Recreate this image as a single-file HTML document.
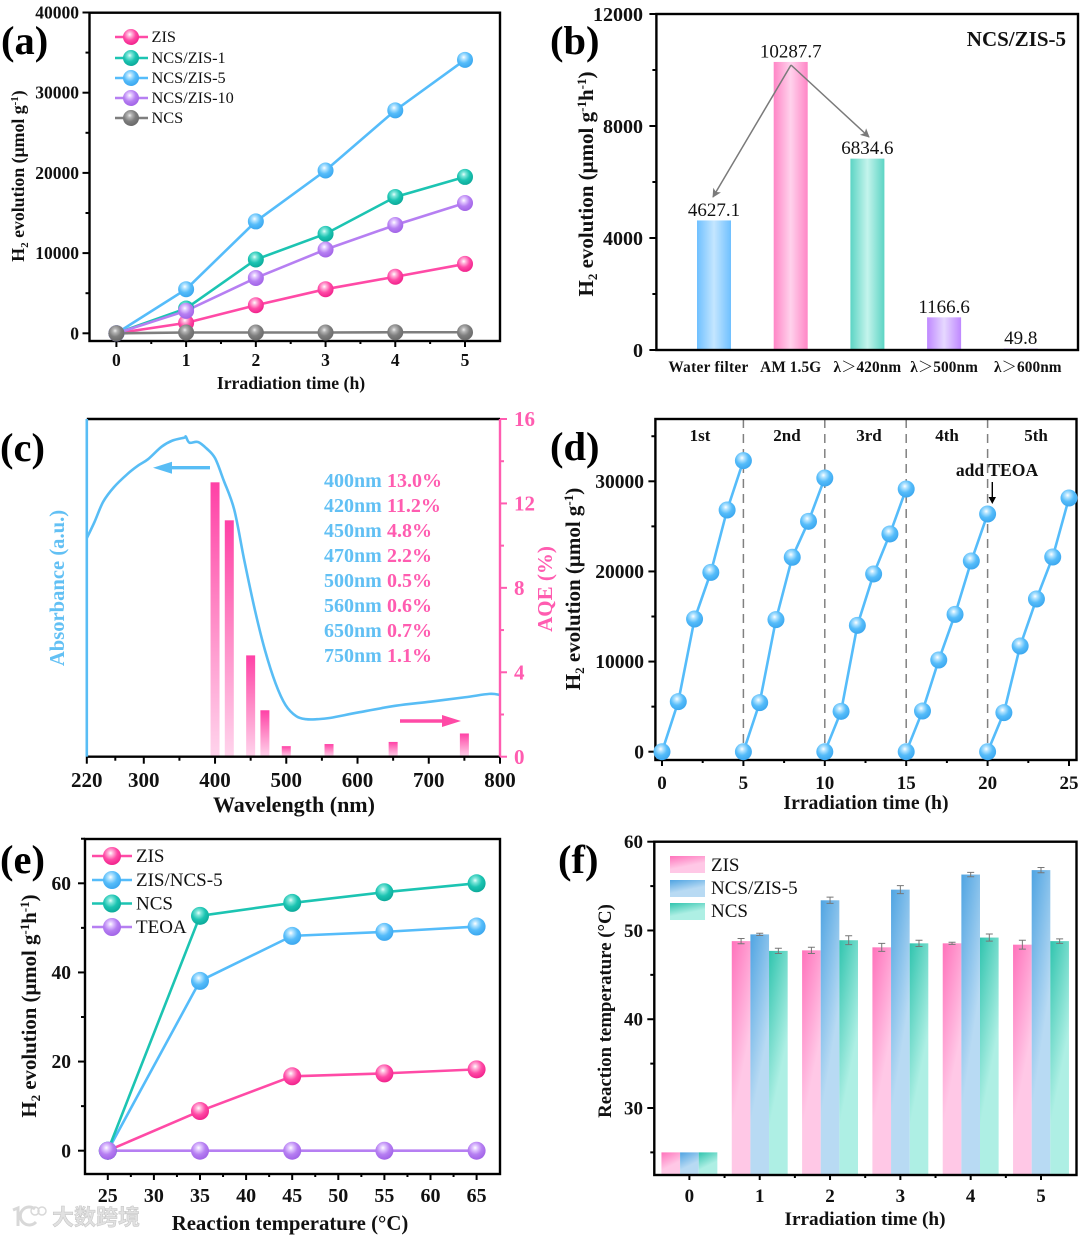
<!DOCTYPE html>
<html lang="en">
<head>
<meta charset="utf-8">
<title>Photocatalytic H2 evolution figure</title>
<style>
html,body{margin:0;padding:0;background:#fff;}
svg{display:block;font-family:"Liberation Serif","Noto Serif CJK SC",serif;filter:blur(.35px);}
text{fill:#111;}
.b{font-weight:bold;}
.panel{font-weight:bold;font-size:40.5px;fill:#000;}
</style>
</head>
<body>
<svg id="fig" xmlns="http://www.w3.org/2000/svg" width="1080" height="1235" viewBox="0 0 1080 1235">
<defs>
  <radialGradient id="ball-pink" cx=".42" cy=".34" r=".68"><stop offset="0" stop-color="#fff"/><stop offset=".2" stop-color="#ffb4da"/><stop offset=".55" stop-color="#ff4aa6"/><stop offset="1" stop-color="#f0208a"/></radialGradient>
  <radialGradient id="ball-teal" cx=".42" cy=".34" r=".68"><stop offset="0" stop-color="#e8fffb"/><stop offset=".2" stop-color="#7fe6da"/><stop offset=".55" stop-color="#1cc4b2"/><stop offset="1" stop-color="#0ba898"/></radialGradient>
  <radialGradient id="ball-blue" cx=".42" cy=".34" r=".68"><stop offset="0" stop-color="#fff"/><stop offset=".2" stop-color="#b4e4ff"/><stop offset=".55" stop-color="#55bcfa"/><stop offset="1" stop-color="#3aa6ee"/></radialGradient>
  <radialGradient id="ball-purple" cx=".42" cy=".34" r=".68"><stop offset="0" stop-color="#fff"/><stop offset=".2" stop-color="#e2c8ff"/><stop offset=".55" stop-color="#b67ff2"/><stop offset="1" stop-color="#a062e6"/></radialGradient>
  <radialGradient id="ball-gray" cx=".42" cy=".34" r=".68"><stop offset="0" stop-color="#eee"/><stop offset=".2" stop-color="#b4b4b4"/><stop offset=".55" stop-color="#7e7e7e"/><stop offset="1" stop-color="#686868"/></radialGradient>

  <linearGradient id="bb-blue" x1="0" x2="1" y1="0" y2="0"><stop offset="0" stop-color="#6fc0ff"/><stop offset=".5" stop-color="#c4e6ff"/><stop offset="1" stop-color="#6fc0ff"/></linearGradient>
  <linearGradient id="bb-pink" x1="0" x2="1" y1="0" y2="0"><stop offset="0" stop-color="#ff86c6"/><stop offset=".5" stop-color="#ffd2ec"/><stop offset="1" stop-color="#ff86c6"/></linearGradient>
  <linearGradient id="bb-teal" x1="0" x2="1" y1="0" y2="0"><stop offset="0" stop-color="#5cd4c4"/><stop offset=".5" stop-color="#c4f4ec"/><stop offset="1" stop-color="#5cd4c4"/></linearGradient>
  <linearGradient id="bb-purple" x1="0" x2="1" y1="0" y2="0"><stop offset="0" stop-color="#bf88ff"/><stop offset=".5" stop-color="#e6d8ff"/><stop offset="1" stop-color="#bf88ff"/></linearGradient>

  <linearGradient id="cb-pink" x1="0" x2="0" y1="0" y2="1"><stop offset="0" stop-color="#ff41a6"/><stop offset=".45" stop-color="#ff85c4"/><stop offset="1" stop-color="#ffd4ec"/></linearGradient>

  <linearGradient id="fb-pink" x1="0" x2=".35" y1="0" y2=".85"><stop offset="0" stop-color="#ff72bb"/><stop offset=".8" stop-color="#ffc8e6"/><stop offset="1" stop-color="#ffc8e6"/></linearGradient>
  <linearGradient id="fb-blue" x1="0" x2=".35" y1="0" y2=".85"><stop offset="0" stop-color="#4fa4e2"/><stop offset=".8" stop-color="#b8daf3"/><stop offset="1" stop-color="#b8daf3"/></linearGradient>
  <linearGradient id="fb-teal" x1="0" x2=".35" y1="0" y2=".85"><stop offset="0" stop-color="#30c4ae"/><stop offset=".8" stop-color="#aeefe4"/><stop offset="1" stop-color="#aeefe4"/></linearGradient>

  <marker id="arrow-gray" viewBox="0 0 10 10" refX="9" refY="5" markerWidth="10" markerHeight="9" markerUnits="userSpaceOnUse" orient="auto"><path d="M0 0L10 5L0 10L2.5 5Z" fill="#7a7a7a"/></marker>
</defs>

<!-- Panel letters -->
<text class="panel" x="1" y="54">(a)</text>
<text class="panel" x="550" y="54">(b)</text>
<text class="panel" x="0" y="461">(c)</text>
<text class="panel" x="550" y="460">(d)</text>
<text class="panel" x="0" y="873">(e)</text>
<text class="panel" x="558" y="873">(f)</text>

<!-- Panel a titles and legend -->
<text class="b" font-size="17.7" text-anchor="middle" x="291" y="389">Irradiation time (h)</text>
<text class="b" font-size="17.8" text-anchor="middle" transform="translate(24,176) rotate(-90)">H<tspan font-size="11" dy="4">2</tspan><tspan dy="-4"> evolution (μmol g</tspan><tspan font-size="11" dy="-6">-1</tspan><tspan dy="6">)</tspan></text>
<g>
  <g><line x1="115" x2="148" y1="37" y2="37" stroke="#ff4aa6" stroke-width="2.5"/><circle cx="131" cy="37" r="8" fill="url(#ball-pink)"/><text x="151.5" y="42" font-size="16.3">ZIS</text></g>
  <g><line x1="115" x2="148" y1="58" y2="58" stroke="#1cc4b2" stroke-width="2.5"/><circle cx="131" cy="58" r="8" fill="url(#ball-teal)"/><text x="151.5" y="63" font-size="16.3">NCS/ZIS-1</text></g>
  <g><line x1="115" x2="148" y1="78" y2="78" stroke="#55bcfa" stroke-width="2.5"/><circle cx="131" cy="78" r="8" fill="url(#ball-blue)"/><text x="151.5" y="83" font-size="16.3">NCS/ZIS-5</text></g>
  <g><line x1="115" x2="148" y1="98" y2="98" stroke="#b67ff2" stroke-width="2.5"/><circle cx="131" cy="98" r="8" fill="url(#ball-purple)"/><text x="151.5" y="103" font-size="16.3">NCS/ZIS-10</text></g>
  <g><line x1="115" x2="148" y1="118" y2="118" stroke="#7e7e7e" stroke-width="2.5"/><circle cx="131" cy="118" r="8" fill="url(#ball-gray)"/><text x="151.5" y="123" font-size="16.3">NCS</text></g>
</g>

<!-- Panel b titles -->
<text class="b" font-size="21" text-anchor="middle" transform="translate(593,184) rotate(-90)">H<tspan font-size="13" dy="4">2</tspan><tspan dy="-4"> evolution (μmol g</tspan><tspan font-size="13" dy="-7">-1</tspan><tspan dy="7">h</tspan><tspan font-size="13" dy="-7">-1</tspan><tspan dy="7">)</tspan></text>
<text class="b" font-size="21" text-anchor="end" x="1066" y="46">NCS/ZIS-5</text>

<!-- Panel c titles -->
<text class="b" font-size="22" text-anchor="middle" x="294" y="812">Wavelength (nm)</text>
<text class="b" font-size="20.6" text-anchor="middle" transform="translate(64,588) rotate(-90)" style="fill:#62c0f4">Absorbance (a.u.)</text>
<text class="b" font-size="21" text-anchor="middle" transform="translate(552,589) rotate(-90)" style="fill:#ff5cb0">AQE (%)</text>

<!-- Panel d titles -->
<text class="b" font-size="19.7" text-anchor="middle" x="866" y="809">Irradiation time (h)</text>
<text class="b" font-size="21" text-anchor="middle" transform="translate(580,589) rotate(-90)">H<tspan font-size="13" dy="4">2</tspan><tspan dy="-4"> evolution (μmol g</tspan><tspan font-size="13" dy="-7">-1</tspan><tspan dy="7">)</tspan></text>
<g class="b" font-size="17" text-anchor="middle">
  <text x="700" y="441">1st</text>
  <text x="787" y="441">2nd</text>
  <text x="869" y="441">3rd</text>
  <text x="947" y="441">4th</text>
  <text x="1036" y="441">5th</text>
</g>

<!-- Panel e titles and legend -->
<text class="b" font-size="20.8" text-anchor="middle" x="290" y="1230">Reaction temperature (°C)</text>
<text class="b" font-size="20.8" text-anchor="middle" transform="translate(36,1006) rotate(-90)">H<tspan font-size="13" dy="4">2</tspan><tspan dy="-4"> evolution (μmol g</tspan><tspan font-size="13" dy="-7">-1</tspan><tspan dy="7">h</tspan><tspan font-size="13" dy="-7">-1</tspan><tspan dy="7">)</tspan></text>
<g>
  <g><line x1="92" x2="132" y1="856" y2="856" stroke="#ff4aa6" stroke-width="2.5"/><circle cx="112" cy="856" r="9" fill="url(#ball-pink)"/><text x="136" y="862" font-size="19">ZIS</text></g>
  <g><line x1="92" x2="132" y1="880" y2="880" stroke="#55bcfa" stroke-width="2.5"/><circle cx="112" cy="880" r="9" fill="url(#ball-blue)"/><text x="136" y="886" font-size="19">ZIS/NCS-5</text></g>
  <g><line x1="92" x2="132" y1="903.5" y2="903.5" stroke="#1cc4b2" stroke-width="2.5"/><circle cx="112" cy="903.5" r="9" fill="url(#ball-teal)"/><text x="136" y="909.5" font-size="19">NCS</text></g>
  <g><line x1="92" x2="132" y1="927" y2="927" stroke="#b67ff2" stroke-width="2.5"/><circle cx="112" cy="927" r="9" fill="url(#ball-purple)"/><text x="136" y="933" font-size="19">TEOA</text></g>
</g>

<!-- Panel f titles and legend -->
<text class="b" font-size="19.2" text-anchor="middle" x="865" y="1225">Irradiation time (h)</text>
<text class="b" font-size="18.8" text-anchor="middle" transform="translate(611,1011) rotate(-90)">Reaction temperature (°C)</text>
<g>
  <g><rect x="670" y="856" width="35" height="17" fill="url(#fb-pink)"/><text x="711" y="871" font-size="19">ZIS</text></g>
  <g><rect x="670" y="880" width="35" height="17" fill="url(#fb-blue)"/><text x="711" y="894" font-size="19">NCS/ZIS-5</text></g>
  <g><rect x="670" y="903" width="35" height="17" fill="url(#fb-teal)"/><text x="711" y="917" font-size="19">NCS</text></g>
</g>

<!-- Watermark -->
<g opacity=".9">
  <path d="M13 1210L18 1208V1226M35 1209A9 9 0 1 0 36 1222" fill="none" stroke="#d4d4d4" stroke-width="3"/>
  <circle cx="35" cy="1211" r="4" fill="none" stroke="#d4d4d4" stroke-width="1.5"/>
  <circle cx="42" cy="1211" r="4" fill="none" stroke="#d4d4d4" stroke-width="1.5"/>
  <text x="52" y="1225" font-size="22" font-weight="bold" style="font-family:'Noto Sans CJK SC',sans-serif;fill:#dedede;stroke:#bdbdbd;stroke-width:.5">大数跨境</text>
</g>

<g id="charts"></g>
</svg>

<script>
// ---------- Panel a data ----------
const aHours = [0, 1, 2, 3, 4, 5];
const aZis = [0, 1300, 3500, 5500, 7050, 8650];
const aNcsZis1 = [0, 3100, 9200, 12400, 17000, 19500];
const aNcsZis5 = [0, 5500, 13950, 20300, 27800, 34100];
const aNcsZis10 = [0, 2800, 6900, 10450, 13500, 16250];
const aNcs = [0, 100, 100, 100, 130, 130];
const aYTicks = [0, 10000, 20000, 30000, 40000];
const aYMinor = [5000, 15000, 25000, 35000];
const aXMinor = [0.5, 1.5, 2.5, 3.5, 4.5];

// ---------- Panel b data ----------
const bCategories = ['Water filter', 'AM 1.5G', 'λ＞420nm', 'λ＞500nm', 'λ＞600nm'];
const bValues = [4627.1, 10287.7, 6834.6, 1166.6, 49.8];
const bYTicks = [0, 4000, 8000, 12000];
const bYMinor = [2000, 6000, 10000];

// ---------- Panel c data ----------
const cWavelength = [220, 231, 243, 258, 277, 292, 306, 325, 340, 357, 359, 364, 376, 388, 400, 412, 427, 441, 456, 470, 485, 499, 514, 528, 543, 562, 601, 654, 702, 751, 785, 800];
const cAbsorbance = [.647, .696, .755, .798, .837, .862, .881, .918, .936, .945, .948, .930, .932, .913, .884, .819, .731, .582, .434, .316, .217, .153, .120, .111, .111, .115, .131, .151, .163, .176, .186, .183];
const cBarWavelength = [400, 420, 450, 470, 500, 560, 650, 750];
const cBarAqe = [13.0, 11.2, 4.8, 2.2, 0.5, 0.6, 0.7, 1.1];
const cXTicks = [220, 300, 400, 500, 600, 700, 800];
const cXMinor = [260, 350, 450, 550, 650, 750];
const cYTicks = [0, 4, 8, 12, 16];
const cYMinor = [2, 6, 10, 14];

// ---------- Panel d data ----------
const dHoursInCycle = [0, 1, 2, 3, 4, 5];
const dCycleStart = [0, 5, 10, 15, 20];
const dCycle1 = [0, 5550, 14720, 19900, 26820, 32290];
const dCycle2 = [0, 5440, 14650, 21570, 25560, 30370];
const dCycle3 = [0, 4480, 14020, 19720, 24160, 29150];
const dCycle4 = [0, 4510, 10170, 15240, 21160, 26370];
const dCycle5 = [0, 4330, 11730, 16940, 21600, 28150];
const dXTicks = [0, 5, 10, 15, 20, 25];
const dXMinor = [2.5, 7.5, 12.5, 17.5, 22.5];
const dYTicks = [0, 10000, 20000, 30000];
const dYMinor = [5000, 15000, 25000, 35000];
const dDividers = [5, 10, 15, 20];

// ---------- Panel e data ----------
const eTemperature = [25, 35, 45, 55, 65];
const eZis = [0, 8.9, 16.7, 17.35, 18.25];
const eZisNcs5 = [0, 38.1, 48.2, 49.1, 50.3];
const eNcs = [0, 52.7, 55.6, 58, 60];
const eTeoa = [0, 0, 0, 0, 0];
const eXTicks = [25, 30, 35, 40, 45, 50, 55, 60, 65];
const eXMinor = [27.5, 32.5, 37.5, 42.5, 47.5, 52.5, 57.5, 62.5];
const eYTicks = [0, 20, 40, 60];
const eYMinor = [10, 30, 50, 70];

// ---------- Panel f data ----------
const fHours = [0, 1, 2, 3, 4, 5];
const fZis = [25, 48.8, 47.76, 48.1, 48.55, 48.4];
const fNcsZis5 = [25, 49.56, 53.4, 54.6, 56.3, 56.8];
const fNcs = [25, 47.7, 48.9, 48.55, 49.2, 48.8];
const fZisErr = [0, .3, .35, .45, .12, .5];
const fNcsZis5Err = [0, .12, .35, .45, .25, .3];
const fNcsErr = [0, .3, .5, .35, .4, .25];
const fYTicks = [30, 40, 50, 60];
const fYMinor = [25, 35, 45, 55];
const fXMinor = [0.5, 1.5, 2.5, 3.5, 4.5];

// ---------- helpers ----------
const NS = 'http://www.w3.org/2000/svg';
const root = document.getElementById('charts');
function add(parent, tag, attrs) {
  const el = document.createElementNS(NS, tag);
  for (const k in attrs) el.setAttribute(k, attrs[k]);
  parent.appendChild(el);
  return el;
}
function linear(d0, d1, r0, r1) {
  return v => r0 + (v - d0) * (r1 - r0) / (d1 - d0);
}
function group(name) {
  const g = add(root, 'g', {});
  
  
  return g;
}
function frame(g, x0, y0, x1, y1, name) {
  const r = add(g, 'rect', {x: x0, y: y0, width: x1 - x0, height: y1 - y0, fill: 'none', stroke: '#000', 'stroke-width': 2.4});
  
  
}
// Catmull-Rom smoothing through projected points
function smoothPath(p) {
  let d = 'M' + p[0][0] + ' ' + p[0][1];
  for (let i = 0; i < p.length - 1; i++) {
    const a = p[Math.max(i - 1, 0)], b = p[i], c = p[i + 1], e = p[Math.min(i + 2, p.length - 1)];
    d += 'C' + (b[0] + (c[0] - a[0]) / 6) + ' ' + (b[1] + (c[1] - a[1]) / 6) + ' ' +
         (c[0] - (e[0] - b[0]) / 6) + ' ' + (c[1] - (e[1] - b[1]) / 6) + ' ' + c[0] + ' ' + c[1];
  }
  return d;
}
// side: 'left' | 'right' | 'bottom'; at: pixel position of the axis line
function axis(g, side, at, scale, majors, minors, o) {
  const dir = side === 'right' ? 1 : (side === 'left' ? -1 : 1);
  const color = o.color || '#000';
  const tick = (v, len, major) => {
    const p = scale(v);
    const a = side === 'bottom'
      ? {x1: p, x2: p, y1: at, y2: at + len}
      : {x1: at, x2: at + dir * len, y1: p, y2: p};
    const t = add(g, 'line', Object.assign(a, {stroke: color, 'stroke-width': 2}));
    
    
  };
  minors.forEach(v => tick(v, o.minorLen || 4, false));
  majors.forEach(v => {
    tick(v, o.majorLen || 7, true);
    const p = scale(v);
    const attrs = side === 'bottom'
      ? {x: p, y: o.labelPos, 'text-anchor': 'middle', 'font-size': o.font, 'font-weight': 'bold'}
      : {x: o.labelPos, y: p + o.font * .34, 'text-anchor': side === 'left' ? 'end' : 'start', 'font-size': o.font, 'font-weight': 'bold'};
    const t = add(g, 'text', attrs);
    t.textContent = v;
    if (o.color) t.style.fill = o.color;
    
    
  });
}
function series(g, xs, ys, sx, sy, color, ball, r, name) {
  const d = xs.map((x, i) => (i ? 'L' : 'M') + sx(x) + ' ' + sy(ys[i])).join('');
  const l = add(g, 'path', {d: d, fill: 'none', stroke: color, 'stroke-width': 2.6});
  
  
  return () => {
    xs.forEach((x, i) => {
      const c = add(g, 'circle', {cx: sx(x), cy: sy(ys[i]), r: r, fill: 'url(#' + ball + ')'});
      
      
    });
  };
}

// ---------- Panel a ----------
(function () {
  const g = group('chart-a');
  const sx = linear(0, 5, 116.4, 465), sy = linear(0, 40000, 333.3, 12.5);
  frame(g, 89.5, 12.7, 500, 341, 'a-plot-frame');
  axis(g, 'left', 89.5, sy, aYTicks, aYMinor, {name: 'a-y-axis', font: 17.5, labelPos: 79});
  axis(g, 'bottom', 341, sx, aHours, aXMinor, {name: 'a-x-axis', font: 17.5, labelPos: 366, majorLen: 6, minorLen: 3});
  const list = [
    [aZis, '#ff4aa6', 'ball-pink', 'a-zis'],
    [aNcsZis1, '#1cc4b2', 'ball-teal', 'a-ncs-zis-1'],
    [aNcsZis5, '#55bcfa', 'ball-blue', 'a-ncs-zis-5'],
    [aNcsZis10, '#b67ff2', 'ball-purple', 'a-ncs-zis-10'],
    [aNcs, '#7e7e7e', 'ball-gray', 'a-ncs']
  ];
  const pts = list.map(s => series(g, aHours, s[0], sx, sy, s[1], s[2], 8, s[3]));
  pts.forEach(f => f());
})();

// ---------- Panel b ----------
(function () {
  const g = group('chart-b');
  const sy = linear(0, 12000, 350, 14);
  const barX = i => 714 + i * 76.7;
  const fills = ['bb-blue', 'bb-pink', 'bb-teal', 'bb-purple', 'bb-purple'];
  bValues.forEach((v, i) => {
    const b = add(g, 'rect', {x: barX(i) - 17, y: sy(v), width: 34, height: 350 - sy(v), fill: 'url(#' + fills[i] + ')'});
    
    
    const t = add(g, 'text', {x: barX(i), y: sy(v) - 4.5, 'text-anchor': 'middle', 'font-size': 19});
    t.textContent = v.toFixed(1);
    
    
    const c = add(g, 'text', {x: barX(i) + (i === 0 ? -5.5 : (i === 4 ? 7 : 0)), y: 372, 'text-anchor': 'middle', 'font-size': 15.3, 'font-weight': 'bold', 'letter-spacing': i === 0 ? '.3' : '.1'});
    c.textContent = bCategories[i];
    
    
  });
  frame(g, 656.4, 14, 1078, 350, 'b-plot-frame');
  axis(g, 'left', 656.4, sy, bYTicks, bYMinor, {name: 'b-y-axis', font: 20, labelPos: 643});
  const a1 = add(g, 'line', {x1: 791, y1: 65, x2: 713, y2: 197, stroke: '#7a7a7a', 'stroke-width': 1.5, 'marker-end': 'url(#arrow-gray)'});
  
  
  const a2 = add(g, 'line', {x1: 791, y1: 65, x2: 869, y2: 137, stroke: '#7a7a7a', 'stroke-width': 1.5, 'marker-end': 'url(#arrow-gray)'});
  
  
})();

// ---------- Panel c ----------
(function () {
  const g = group('chart-c');
  const L = 86.8, R = 500, T = 419, B = 756.7;
  const sx = linear(220, 800, L, R), sy = linear(0, 16, B, T), sa = linear(0, 1, B, T);
  cBarWavelength.forEach((w, i) => {
    const b = add(g, 'rect', {x: sx(w) - 4.5, y: sy(cBarAqe[i]), width: 9, height: B - sy(cBarAqe[i]), fill: 'url(#cb-pink)'});
    
    
    const t1 = add(g, 'text', {x: 324, y: 487 + i * 25, 'font-size': 20, 'font-weight': 'bold'});
    t1.textContent = w + 'nm';
    t1.style.fill = '#62c0f4';
    
    
    const t2 = add(g, 'text', {x: 387, y: 487 + i * 25, 'font-size': 20, 'font-weight': 'bold'});
    t2.textContent = cBarAqe[i].toFixed(1) + '%';
    t2.style.fill = '#ff5cb0';
    
    
  });
  const curvePts = cWavelength.map((w, i) => [sx(w), sa(cAbsorbance[i])]);
  const curve = add(g, 'path', {d: smoothPath(curvePts), fill: 'none', stroke: '#58bdf5', 'stroke-width': 2.6, 'stroke-linejoin': 'round'});
  
  

  const top = add(g, 'line', {x1: L, x2: R, y1: T, y2: T, stroke: '#000', 'stroke-width': 2.4});
  
  
  const bot = add(g, 'line', {x1: L, x2: R, y1: B, y2: B, stroke: '#000', 'stroke-width': 2.4});
  
  
  const left = add(g, 'line', {x1: L, x2: L, y1: T, y2: B, stroke: '#58bdf5', 'stroke-width': 2.6});
  
  
  const right = add(g, 'line', {x1: R, x2: R, y1: T, y2: B, stroke: '#ff5cb0', 'stroke-width': 2.4});
  
  

  axis(g, 'bottom', B, sx, cXTicks, cXMinor, {name: 'c-x-axis', font: 21, labelPos: 787});
  axis(g, 'right', R, sy, cYTicks, cYMinor, {name: 'c-right-y-axis', font: 21, labelPos: 514, color: '#ff5cb0'});

  const ab = add(g, 'path', {d: 'M210 466H172V461.7L153 467.7L172 473.7V469.4H210Z', fill: '#58bdf5'});
  
  
  const ap = add(g, 'path', {d: 'M400 719.3H442V715L461 721L442 727V722.7H400Z', fill: '#ff4aa6'});
  
  
})();

// ---------- Panel d ----------
(function () {
  const g = group('chart-d');
  const L = 655.4, R = 1076.5, T = 419, B = 760;
  const sx = linear(0, 25, 662, 1069), sy = linear(0, 30000, 751.7, 481.3);
  dDividers.forEach(v => {
    const l = add(g, 'line', {x1: sx(v), x2: sx(v), y1: T, y2: B, stroke: '#808080', 'stroke-width': 1.5, 'stroke-dasharray': '9 6'});
    
    
  });
  frame(g, L, T, R, B, 'd-plot-frame');
  axis(g, 'left', L, sy, dYTicks, dYMinor, {name: 'd-y-axis', font: 19.5, labelPos: 644});
  axis(g, 'bottom', B, sx, dXTicks, dXMinor, {name: 'd-x-axis', font: 19, labelPos: 789, majorLen: 6, minorLen: 3});
  const cycles = [dCycle1, dCycle2, dCycle3, dCycle4, dCycle5];
  const pts = cycles.map((c, i) => series(g, dHoursInCycle.map(h => h + dCycleStart[i]), c, sx, sy, '#55bcfa', 'ball-blue', 8.5, 'd-cycle-' + (i + 1)));
  pts.forEach(f => f());
  const lab = add(g, 'text', {x: 997, y: 476, 'text-anchor': 'middle', 'font-size': 17.6, 'font-weight': 'bold'});
  lab.textContent = 'add TEOA';
  
  
  const ar = add(g, 'path', {d: 'M991.6 482H993V497H996L992.3 504L988.6 497H991.6Z', fill: '#000'});
  
  
})();

// ---------- Panel e ----------
(function () {
  const g = group('chart-e');
  const sx = linear(25, 65, 107.8, 476.6), sy = linear(0, 60, 1150.7, 883.3);
  frame(g, 85, 839, 500, 1174, 'e-plot-frame');
  axis(g, 'left', 85, sy, eYTicks, eYMinor, {name: 'e-y-axis', font: 19.5, labelPos: 71});
  axis(g, 'bottom', 1174, sx, eXTicks, eXMinor, {name: 'e-x-axis', font: 20, labelPos: 1202, majorLen: 6, minorLen: 3});
  const list = [
    [eZis, '#ff4aa6', 'ball-pink', 'e-zis'],
    [eZisNcs5, '#55bcfa', 'ball-blue', 'e-zis-ncs-5'],
    [eNcs, '#1cc4b2', 'ball-teal', 'e-ncs'],
    [eTeoa, '#b67ff2', 'ball-purple', 'e-teoa']
  ];
  const pts = list.map(s => series(g, eTemperature, s[0], sx, sy, s[1], s[2], 9, s[3]));
  pts.forEach(f => f());
})();

// ---------- Panel f ----------
(function () {
  const g = group('chart-f');
  const L = 654.3, R = 1076.5, T = 841.7, B = 1175;
  const sx = linear(0, 5, 689.4, 1041), sy = linear(30, 60, 1108, 841.7);
  const unit = sx(1) - sx(0), w = 0.265 * unit;
  const list = [
    [fZis, fZisErr, 'fb-pink', 'f-zis', -1],
    [fNcsZis5, fNcsZis5Err, 'fb-blue', 'f-ncs-zis-5', 0],
    [fNcs, fNcsErr, 'fb-teal', 'f-ncs', 1]
  ];
  list.forEach(s => {
    fHours.forEach((h, i) => {
      const cx = sx(h) + s[4] * w;
      const b = add(g, 'rect', {x: cx - w / 2, y: sy(s[0][i]), width: w, height: B - sy(s[0][i]), fill: 'url(#' + s[2] + ')'});
      
      
    });
  });
  list.forEach(s => {
    fHours.forEach((h, i) => {
      if (!s[1][i]) return;
      const cx = sx(h) + s[4] * w;
      const y1 = sy(s[0][i] + s[1][i]), y2 = sy(s[0][i] - s[1][i]);
      const e = add(g, 'path', {d: 'M' + (cx - 3.5) + ' ' + y1 + 'H' + (cx + 3.5) + 'M' + cx + ' ' + y1 + 'V' + y2 + 'M' + (cx - 3.5) + ' ' + y2 + 'H' + (cx + 3.5), fill: 'none', stroke: '#777', 'stroke-width': 1});
      
      
    });
  });
  frame(g, L, T, R, B, 'f-plot-frame');
  axis(g, 'left', L, sy, fYTicks, fYMinor, {name: 'f-y-axis', font: 19, labelPos: 643});
  axis(g, 'bottom', B, sx, fHours, fXMinor, {name: 'f-x-axis', font: 19, labelPos: 1202, majorLen: 5, minorLen: 3});
})();
</script>
</body>
</html>
